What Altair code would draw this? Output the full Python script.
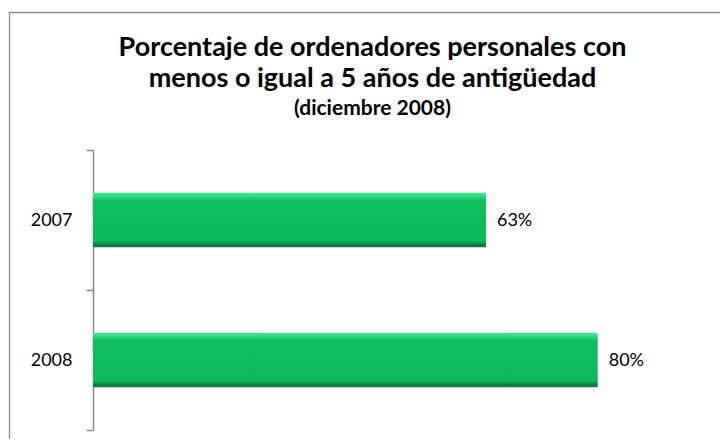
import altair as alt
import pandas as pd

years = ["2007", "2008"]
values = [62.6, 80.4]
labels = ["63%", "80%"]

title_lines = ["Porcentaje de ordenadores personales con",
               "menos o igual a 5 años de antigüedad"]
subtitle = "(diciembre 2008)"

df = pd.DataFrame({"year": years, "value": values, "label": labels})

W, H = 565, 280

green = alt.Gradient(
    gradient="linear", x1=0, x2=0, y1=0, y2=1,
    stops=[
        alt.GradientStop(offset=0.0, color="#3fe893"),
        alt.GradientStop(offset=0.04, color="#36e08b"),
        alt.GradientStop(offset=0.10, color="#22cf73"),
        alt.GradientStop(offset=0.14, color="#0dbf5d"),
        alt.GradientStop(offset=0.88, color="#0bbb5a"),
        alt.GradientStop(offset=0.92, color="#0a9c4b"),
        alt.GradientStop(offset=0.95, color="#0b7d40"),
        alt.GradientStop(offset=1.0, color="#0b7a3e"),
    ],
)

y_enc = alt.Y(
    "year:N", sort=years, title=None,
    scale=alt.Scale(paddingInner=0, paddingOuter=0),
    axis=alt.Axis(
        tickBand="extent", domainColor="#868686", domainWidth=1.5,
        tickColor="#868686", tickWidth=1.5, tickSize=7,
        labelFont="Lato", labelFontSize=18, labelColor="#000000",
        labelPadding=14, grid=False,
    ),
)
x_enc = alt.X("value:Q", scale=alt.Scale(domain=[0, 90]), axis=None)

bars = alt.Chart(df).mark_bar(
    color=green, height=alt.RelativeBandSize(0.39)
).encode(x=x_enc, y=y_enc)

text = alt.Chart(df).mark_text(
    align="left", baseline="middle", dx=11, dy=1,
    font="Lato", fontSize=18, color="#000000",
).encode(x=x_enc, y=y_enc, text="label:N")

border = alt.Chart(alt.Data(values=[{}])).mark_rect(
    fillOpacity=0, stroke="#8c8c8c", strokeWidth=1.3,
).encode(
    x=alt.value(-83.5), x2=alt.value(720), y=alt.value(-137.5), y2=alt.value(400)
)

chart = alt.layer(border, bars, text).properties(
    width=W, height=H,
    background="white",
    autosize=alt.AutoSizeParams(type="none"),
    padding={"left": 85, "top": 142, "right": 62, "bottom": 9},
    title=alt.TitleParams(
        text=title_lines, subtitle=subtitle, anchor="middle", frame="group",
        font="Lato", fontSize=27, fontWeight="bold", color="#000000",
        lineHeight=31,
        subtitleFont="Lato", subtitleFontSize=21, subtitleFontWeight="bold",
        subtitleColor="#000000", subtitlePadding=5,
        offset=-108, dx=-3,
    ),
).configure_view(strokeWidth=0, stroke=None)

chart.save("out.html", embed_options={"renderer": "svg", "actions": False})
